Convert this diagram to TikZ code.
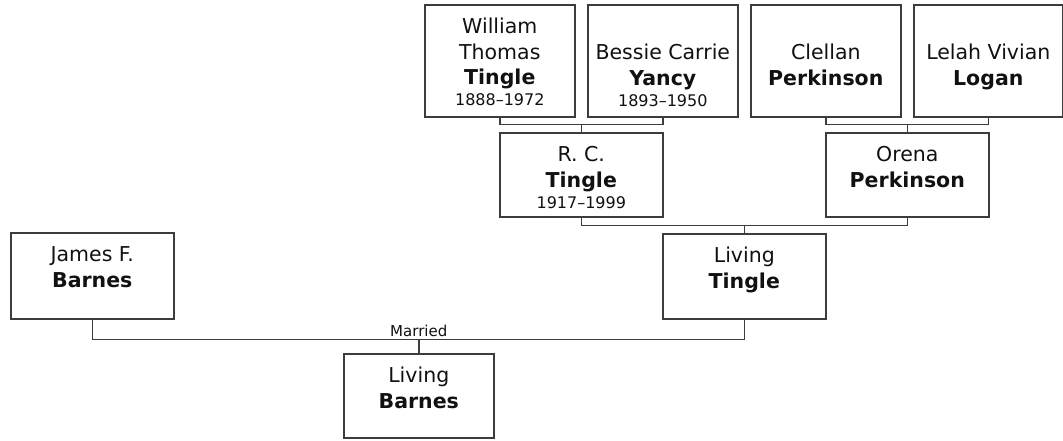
\documentclass[tikz,border=0pt]{standalone}
\usepackage{fontspec}
\setmainfont{DejaVu Sans}
\usetikzlibrary{calc}
\definecolor{ink}{HTML}{111111}
\definecolor{rulegray}{HTML}{3C3C3C}
\newcommand{\namefont}{\fontsize{20.5}{25.5}\selectfont}
\newcommand{\yearfont}{\fontsize{16}{21}\selectfont}
\newcommand{\card}[4][11pt]{\parbox[c][#3][t]{#2}{\centering\namefont
  \vspace*{#1}\strut#4}}
\tikzset{
  person/.style={draw=rulegray,line width=1.6pt,inner sep=0pt,
                 anchor=north west,text=ink},
  link/.style={draw=rulegray,line width=1.6pt},
  tag/.style={font=\fontsize{15}{18}\selectfont,text=ink,inner sep=0pt}
}
\begin{document}
\begin{tikzpicture}[x=1pt,y=-1pt]
    \useasboundingbox (0,0) rectangle (1063,440);

    % grandparents
    \node[person] (wt) at (424,4)
      {\card{150pt}{112pt}{William\\Thomas\\\textbf{Tingle}\par
       \yearfont 1888--1972}};
    \node[person] (by) at (587,4)
      {\card[37pt]{150pt}{112pt}{Bessie Carrie\\\textbf{Yancy}\par
       \yearfont 1893--1950}};
    \node[person] (cp) at (750,4)
      {\card[37pt]{150pt}{112pt}{Clellan\\\textbf{Perkinson}}};
    \node[person] (lo) at (913,4)
      {\card[37pt]{149pt}{112pt}{Lelah Vivian\\\textbf{Logan}}};

    % parents of Living Tingle
    \node[person] (rc) at (499,132)
      {\card{163pt}{84pt}{R. C.\\\textbf{Tingle}\par\yearfont 1917--1999}};
    \node[person] (op) at (825,132)
      {\card{163pt}{84pt}{Orena\\\textbf{Perkinson}}};

    % parents
    \node[person] (jb) at (10,232)
      {\card{163pt}{86pt}{James F.\\\textbf{Barnes}}};
    \node[person] (lt) at (662,233)
      {\card{163pt}{85pt}{Living\\\textbf{Tingle}}};

    % child
    \node[person] (lb) at (343,353)
      {\card{150pt}{84pt}{Living\\\textbf{Barnes}}};

    % couples
    \draw[link] (wt.south) -- ++(0,7) coordinate (wtby) -| (by.south);
    \draw[link] (wtby -| rc.north) -- (rc.north);
    \draw[link] (cp.south) -- ++(0,7) coordinate (cplo) -| (lo.south);
    \draw[link] (cplo -| op.north) -- (op.north);
    \draw[link] (rc.south) -- ++(0,8) coordinate (rcop) -| (op.south);
    \draw[link] (rcop -| lt.north) -- (lt.north);
    \draw[link] (jb.south) -- ++(0,20) coordinate (jblt) -| (lt.south);
    \draw[link] (jblt -| lb.north) -- (lb.north);
    \node[tag,anchor=base] (wed) at ($(jblt -| lb.north)+(0,-3)$) {Married};
\end{tikzpicture}
\end{document}
